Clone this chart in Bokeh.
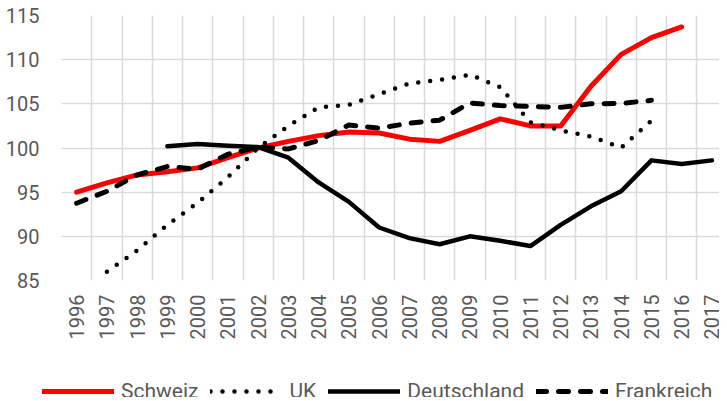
import math
import numpy as np
from bokeh.plotting import figure
from bokeh.models import Range1d, FixedTicker, Legend, LegendItem
from bokeh.embed import file_html
from bokeh.resources import INLINE

years = list(range(1996, 2018))
y_ticks = [85, 90, 95, 100, 105, 110, 115]

schweiz = [95.0, 96.05, 96.95, 97.3, 97.75, 98.9, 100.0, 100.75, 101.4, 101.8, 101.7,
           101.0, 100.75, 102.0, 103.3, 102.5, 102.5, 107.0, 110.6, 112.5, 113.7, None]
uk = [None, 86.0, 88.4, 91.3, 93.8, 96.7, 100.0, 102.5, 104.6, 104.9, 106.1,
      107.3, 107.7, 108.3, 106.9, 102.9, 102.0, 101.3, 100.05, 103.1, None, None]
deutschland = [None, None, None, 100.2, 100.45, 100.25, 100.1, 98.9, 96.1, 93.9, 91.0,
               89.8, 89.1, 90.0, 89.5, 88.9, 91.3, 93.4, 95.1, 98.6, 98.2, 98.6]
frankreich = [93.75, 95.1, 96.95, 97.9, 97.6, 99.3, 100.1, 99.9, 100.85, 102.6, 102.25,
              102.8, 103.15, 105.1, 104.8, 104.7, 104.6, 105.0, 105.05, 105.4, None, None]

labels = ["Schweiz", "UK", "Deutschland", "Frankreich"]

FONT = "Roboto"
GRAY_TXT = "#595959"
GRID = "#d9d9d9"

styles = [
    dict(line_color="#ff0000", line_width=5, line_cap="round", line_join="round"),
    dict(line_color="black", line_width=4.5, line_dash="0 12", line_cap="round", line_join="round"),
    dict(line_color="black", line_width=4.5, line_cap="round", line_join="round"),
    dict(line_color="black", line_width=5, line_dash="10 12", line_cap="round", line_join="round"),
]
series = [schweiz, uk, deutschland, frankreich]

p = figure(width=719, height=360, output_backend="svg", toolbar_location=None,
           x_range=Range1d(years[0] - 0.5, years[0] - 0.5 + 21.75),
           y_range=Range1d(y_ticks[0], y_ticks[-1]),
           min_border_left=61, min_border_right=0, min_border_top=15, min_border_bottom=80)
p.outline_line_color = None
p.background_fill_color = "white"
p.border_fill_color = "white"

# grids: vertical lines between categories, horizontal at y ticks
p.xgrid.ticker = FixedTicker(ticks=[y - 0.5 for y in years])
p.xgrid.grid_line_color = GRID
p.xgrid.grid_line_width = 1.5
p.ygrid.grid_line_color = GRID
p.ygrid.grid_line_width = 1.5

# axes
p.yaxis.ticker = FixedTicker(ticks=y_ticks)
p.yaxis.axis_line_color = None
p.yaxis.major_tick_line_color = None
p.yaxis.minor_tick_line_color = None
p.yaxis.major_tick_out = 0
p.yaxis.major_tick_in = 0
p.yaxis.major_label_standoff = 22
p.yaxis.major_label_text_font = FONT
p.yaxis.major_label_text_font_size = "20px"
p.yaxis.major_label_text_color = GRAY_TXT

p.xaxis.ticker = FixedTicker(ticks=years)
p.xaxis.major_label_overrides = {y: str(y) for y in years}
p.xaxis.axis_line_color = None
p.xaxis.major_tick_line_color = None
p.xaxis.minor_tick_line_color = None
p.xaxis.major_tick_out = 0
p.xaxis.major_tick_in = 0
p.xaxis.major_label_standoff = 14
p.xaxis.major_label_orientation = math.pi / 2
p.xaxis.major_label_text_font = FONT
p.xaxis.major_label_text_font_size = "20px"
p.xaxis.major_label_text_color = GRAY_TXT

x = np.array(years, dtype=float)
for s, st in zip(series, styles):
    p.line(x, np.array(s, dtype=float), **st)

# legend strip below the chart (legend-only renderers carry no visible data)
p2 = figure(width=719, height=37, output_backend="svg", toolbar_location=None,
            x_range=Range1d(0, 1), y_range=Range1d(0, 1),
            x_axis_type=None, y_axis_type=None,
            min_border_left=0, min_border_right=0, min_border_top=0, min_border_bottom=0)
p2.outline_line_color = None
p2.xgrid.visible = False
p2.ygrid.visible = False
items = []
for lab, st in zip(labels, styles):
    r = p2.line([np.nan], [np.nan], **st)
    items.append(LegendItem(label=lab, renderers=[r]))

legend = Legend(items=items, orientation="horizontal", location=(42, -6))
legend.glyph_width = 72
legend.glyph_height = 20
legend.label_standoff = 7
legend.spacing = 12
legend.padding = 0
legend.margin = 0
legend.border_line_color = None
legend.background_fill_alpha = 0
legend.label_text_font = FONT
legend.label_text_font_size = "21px"
legend.label_text_color = GRAY_TXT
p2.add_layout(legend, "center")

open("out.html", "w").write(file_html([p, p2], INLINE))
